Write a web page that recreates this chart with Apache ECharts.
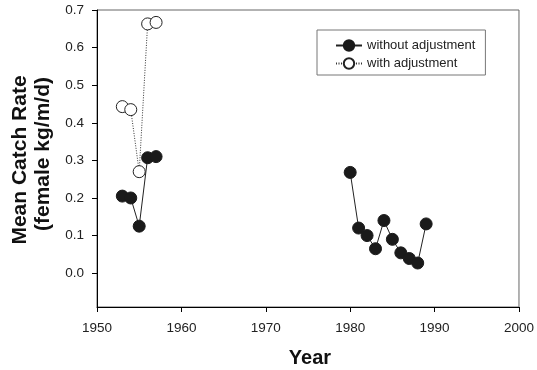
<!DOCTYPE html>
<html>
<head>
<meta charset="utf-8">
<script src="https://cdn.jsdelivr.net/npm/echarts@6/dist/echarts.min.js"></script>
<style>html,body{margin:0;padding:0;background:#fff;}#c{width:537px;height:370px;}</style>
</head>
<body>
<div id="c"></div>
<script>
var yearsEarly = [1953, 1954, 1955, 1956, 1957];
var withoutEarly = [0.205, 0.200, 0.125, 0.307, 0.310];
var withEarly = [0.443, 0.435, 0.270, 0.663, 0.667];
var yearsLate = [1980, 1981, 1982, 1983, 1984, 1985, 1986, 1987, 1988, 1989];
var withoutLate = [0.268, 0.120, 0.100, 0.065, 0.140, 0.090, 0.054, 0.039, 0.027, 0.131];
var yTicks = [0.0, 0.1, 0.2, 0.3, 0.4, 0.5, 0.6, 0.7];
var xTicks = [1950, 1960, 1970, 1980, 1990, 2000];

function pairs(xs, ys) { return xs.map(function (x, i) { return [x, ys[i]]; }); }

var chart = echarts.init(document.getElementById('c'), null, {renderer: 'canvas'});
var font = 'Liberation Sans, Arial, sans-serif';
chart.setOption({
  animation: false,
  backgroundColor: '#fff',
  grid: {left: 97, right: 16, top: 10, bottom: 63, show: true, borderColor: '#666', borderWidth: 1},
  legend: {
    left: 317, top: 30, width: 169, height: 43,
    orient: 'vertical', padding: [9, 10, 5, 18], itemGap: 5,
    itemWidth: 26, itemHeight: 13,
    borderColor: '#777', borderWidth: 1,
    textStyle: {fontFamily: font, fontSize: 13, color: '#222'},
    data: ['without adjustment', 'with adjustment']
  },
  xAxis: {
    type: 'value', min: 1950, max: 2000, interval: 10,
    axisLine: {show: true, onZero: false, lineStyle: {color: '#000', width: 1}},
    axisTick: {show: true, inside: false, length: 5, customValues: xTicks, lineStyle: {color: '#000'}},
    axisLabel: {fontFamily: font, fontSize: 13.5, color: '#222', margin: 14, customValues: xTicks,
      formatter: function (v) { return String(v); }},
    splitLine: {show: false}
  },
  yAxis: {
    type: 'value', min: -0.09, max: 0.7,
    axisLine: {show: true, onZero: false, lineStyle: {color: '#000', width: 1}},
    axisTick: {show: true, inside: false, length: 5, customValues: yTicks, lineStyle: {color: '#000'}},
    axisLabel: {fontFamily: font, fontSize: 13.5, color: '#222', margin: 13, customValues: yTicks,
      formatter: function (v) { return v.toFixed(1); }},
    splitLine: {show: false}
  },
  series: [
    {name: 'with adjustment', type: 'line', data: pairs(yearsEarly, withEarly),
     symbol: 'circle', symbolSize: 12, z: 2,
     lineStyle: {color: '#333', width: 1, type: [1, 1.5]},
     itemStyle: {color: '#fff', borderColor: '#222', borderWidth: 1}},
    {name: 'without adjustment', type: 'line', data: pairs(yearsEarly, withoutEarly),
     symbol: 'circle', symbolSize: 12, z: 3,
     lineStyle: {color: '#222', width: 1},
     itemStyle: {color: '#1a1a1a', borderColor: '#1a1a1a', borderWidth: 1}},
    {name: 'without adjustment', type: 'line', data: pairs(yearsLate, withoutLate),
     symbol: 'circle', symbolSize: 12, z: 3,
     lineStyle: {color: '#222', width: 1},
     itemStyle: {color: '#1a1a1a', borderColor: '#1a1a1a', borderWidth: 1}}
  ],
  graphic: [
    {type: 'text', x: 20, y: 160, rotation: Math.PI / 2,
     style: {text: 'Mean Catch Rate', font: 'bold 21px ' + font, fill: '#111', align: 'center', verticalAlign: 'middle'}},
    {type: 'text', x: 43, y: 154, rotation: Math.PI / 2,
     style: {text: '(female kg/m/d)', font: 'bold 21px ' + font, fill: '#111', align: 'center', verticalAlign: 'middle'}},
    {type: 'text', x: 310, y: 358,
     style: {text: 'Year', font: 'bold 20px ' + font, fill: '#111', align: 'center', verticalAlign: 'middle'}}
  ]
});
</script>
</body>
</html>
